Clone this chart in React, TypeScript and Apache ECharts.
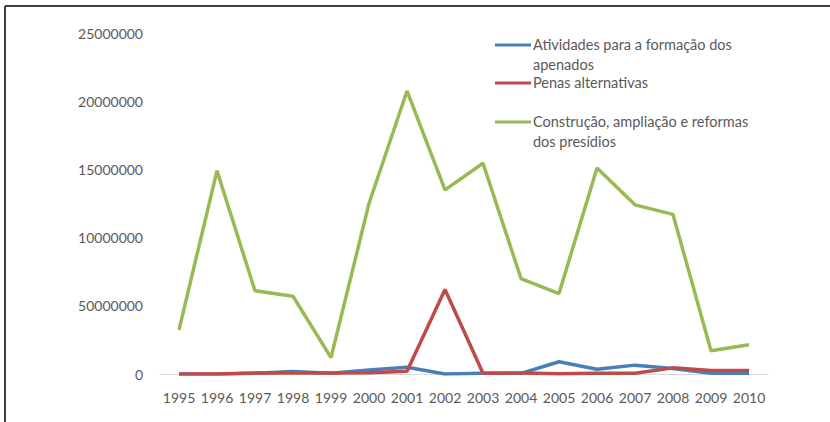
import React, { useEffect, useRef } from "react";
import * as echarts from "echarts";

const categories = ["1995","1996","1997","1998","1999","2000","2001","2002","2003","2004","2005","2006","2007","2008","2009","2010"];
const atividades = [0, 0, 50000, 180000, 50000, 300000, 500000, 0, 50000, 50000, 900000, 350000, 650000, 400000, 50000, 50000];
const penas = [0, 0, 80000, 80000, 80000, 100000, 200000, 6200000, 50000, 80000, 20000, 60000, 60000, 450000, 250000, 250000];
const construcao = [3230000, 14900000, 6100000, 5700000, 1200000, 12500000, 20750000, 13500000, 15450000, 7000000, 5900000, 15100000, 12400000, 11700000, 1700000, 2150000];
const yTickLabels = ["0", "50000000", "10000000", "15000000", "20000000", "25000000"];
const seriesNames = ["Atividades para a formação dos\napenados", "Penas alternativas", "Construção, ampliação e reformas\ndos presídios"];
const colors = ["#4A7EBB", "#BE4B48", "#98B954"];

export default function App() {
  const ref = useRef<HTMLDivElement>(null);
  useEffect(() => {
    const chart = echarts.init(ref.current!, null, { renderer: "svg" });
    const font = "Lato, 'Open Sans', sans-serif";
    const legendY = [45, 83, 122];
    chart.setOption({
      animation: false,
      backgroundColor: "#ffffff",
      textStyle: { fontFamily: font },
      grid: { left: 160, right: 62, top: 33, bottom: 48, containLabel: false },
      xAxis: {
        type: "category",
        data: categories,
        boundaryGap: true,
        axisLine: { show: true, lineStyle: { color: "#D9D9D9", width: 1 } },
        axisTick: { show: false },
        axisLabel: { color: "#595959", fontSize: 14, margin: 16, fontFamily: font, interval: 0, hideOverlap: false },
      },
      yAxis: {
        type: "value",
        min: 0,
        max: 25000000,
        interval: 5000000,
        axisLine: { show: false },
        axisTick: { show: false },
        splitLine: { show: false },
        axisLabel: {
          color: "#595959",
          fontSize: 14,
          margin: 17,
          fontFamily: font,
          formatter: (_v: number, i: number) => yTickLabels[i],
        },
      },
      legend: { show: false },
      series: [
        { name: seriesNames[0], type: "line", data: atividades, showSymbol: false, lineStyle: { color: colors[0], width: 3.5 }, itemStyle: { color: colors[0] } },
        { name: seriesNames[1], type: "line", data: penas, showSymbol: false, lineStyle: { color: colors[1], width: 3.5 }, itemStyle: { color: colors[1] } },
        { name: seriesNames[2], type: "line", data: construcao, showSymbol: false, lineStyle: { color: colors[2], width: 3.5 }, itemStyle: { color: colors[2] } },
      ],
      graphic: [
        { type: "line", shape: { x1: 5, y1: 6, x2: 830, y2: 6 }, style: { stroke: "#404040", lineWidth: 2 } },
        { type: "line", shape: { x1: 5, y1: 6, x2: 5, y2: 422 }, style: { stroke: "#404040", lineWidth: 2 } },
        ...seriesNames.flatMap((name, i) => [
          { type: "line", shape: { x1: 495, y1: legendY[i], x2: 531, y2: legendY[i] }, style: { stroke: colors[i], lineWidth: 3 } },
          {
            type: "text",
            x: 533,
            y: legendY[i] - 10,
            style: { text: name, fill: "#595959", font: `14.5px ${font}`, lineHeight: 19.5, textVerticalAlign: "top" },
          },
        ]),
      ],
    });
    return () => chart.dispose();
  }, []);
  return <div ref={ref} style={{ position: "fixed", left: 0, top: 0, width: 830, height: 422 }} />;
}
